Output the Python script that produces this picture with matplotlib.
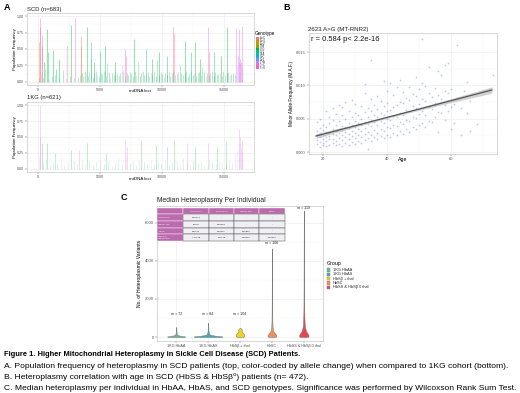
import numpy as np
import matplotlib
matplotlib.use('Agg')
import matplotlib.pyplot as plt
from matplotlib.patches import Rectangle

plt.rcParams['font.family'] = ['Liberation Sans', 'DejaVu Sans']

W, H = 520, 393
fig = plt.figure(figsize=(5.2, 3.93), dpi=100)


def rect(l, t, r, b):
    return [l / W, 1 - b / H, (r - l) / W, (b - t) / H]

# ---------------- DATA ----------------
geno_labels = ['A>C', 'A>G', 'A>T', 'C>A', 'C>G', 'C>T', 'G>A', 'G>C', 'G>T', 'T>A', 'T>C', 'T>G']
geno_colors = ['#F8766D', '#DE8C00', '#B79F00', '#7CAE00', '#00BA38', '#00C08B',
               '#00BFC4', '#00B4F0', '#619CFF', '#C77CFF', '#F564E3', '#FF64B0']

# Panel A (SCD) prominent heteroplasmies
scd_pos = [73, 150, 195, 300, 350, 480, 750, 830, 1190, 1438, 1720, 2310, 2706, 3010, 3480,
           3520, 3980, 4250, 4500, 5000, 5450, 6200, 7050, 7150, 7800, 8700, 9200, 9800, 10400, 10900,
           10950, 11850, 12400, 12700, 13100, 13750, 13800, 14200, 14800, 15300, 16000, 16150, 16250, 16300, 16400,
           16519]
scd_freq = [0.60, 0.84, 0.97, 0.72, 0.55, 0.30, 0.80, 0.45, 0.48, 0.20, 0.35, 0.55, 0.87, 0.97, 0.70,
            0.55, 0.83, 0.60, 0.30, 0.47, 0.55, 0.30, 0.50, 0.40, 0.65, 0.50, 0.35, 0.45, 0.40, 0.83,
            0.75, 0.62, 0.45, 0.60, 0.35, 0.83, 0.45, 0.45, 0.40, 0.83, 0.82, 0.40, 0.80, 0.35, 0.30,
            0.85]
scd_geno = [1, 10, 11, 0, 0, 4, 4, 5, 4, 5, 4, 10, 4, 10, 0,
            0, 4, 5, 4, 5, 4, 4, 10, 11, 4, 5, 4, 4, 5, 0,
            11, 4, 5, 4, 4, 10, 0, 5, 4, 4, 10, 9, 9, 11, 9,
            11]
# Panel A (SCD) low-frequency heteroplasmies
scd_low_pos = [60, 250, 400, 600, 900, 1100, 1400, 1700, 2000, 2300, 2600, 2900, 3200,
               3400, 3530, 3650, 3790, 3900, 4040, 4160, 4300, 4420, 4560, 4690, 4810, 4950, 5080, 5200,
               5340, 5470, 5590, 5730, 5860, 5990, 6120, 6250, 6380, 6510, 6640, 6770, 6900, 7030, 7160,
               7290, 7420, 7550, 7690, 7820, 7950, 8080, 8210, 8340, 8470, 8600, 8730, 8860, 8990, 9120,
               9250, 9380, 9510, 9640, 9770, 9900, 10030, 10160, 10290, 10420, 10550, 10680, 10810, 10940, 11070,
               11200, 11330, 11460, 11590, 11720, 11850, 11980, 12110, 12240, 12370, 12500, 12630, 12760, 12890,
               13020, 13150, 13280, 13410, 13540, 13670, 13800, 13930, 14060, 14190, 14320, 14450, 14580, 14710,
               14840, 14970, 15100, 15230, 15360, 15490, 15620, 15750, 15880, 16050, 16200, 16350, 16450]
scd_low_freq = [0.05, 0.12, 0.06, 0.20, 0.04, 0.08, 0.10, 0.05, 0.18, 0.06, 0.09, 0.05, 0.07,
                0.10, 0.14, 0.08, 0.16, 0.12, 0.09, 0.15, 0.35, 0.07, 0.13, 0.17, 0.10, 0.08, 0.14, 0.12,
                0.16, 0.09, 0.28, 0.15, 0.07, 0.13, 0.10, 0.16, 0.12, 0.08, 0.14, 0.25, 0.17, 0.09, 0.13,
                0.10, 0.15, 0.12, 0.08, 0.16, 0.11, 0.30, 0.09, 0.13, 0.17, 0.10, 0.12, 0.15, 0.08, 0.14,
                0.11, 0.16, 0.09, 0.33, 0.10, 0.15, 0.12, 0.07, 0.14, 0.11, 0.17, 0.09, 0.13, 0.16, 0.10,
                0.12, 0.15, 0.26, 0.14, 0.11, 0.13, 0.17, 0.09, 0.12, 0.16, 0.10, 0.14, 0.08, 0.13,
                0.15, 0.11, 0.22, 0.16, 0.09, 0.14, 0.10, 0.13, 0.17, 0.08, 0.15, 0.11, 0.12, 0.14,
                0.09, 0.16, 0.10, 0.13, 0.15, 0.11, 0.12, 0.14, 0.10, 0.25, 0.30, 0.28, 0.22]
scd_low_geno = [4, 10, 4, 5, 10, 4, 5, 4, 4, 10, 4, 5, 4,
                4, 5, 4, 4, 10, 4, 5, 4, 4, 5, 4, 10, 4, 4, 5,
                4, 4, 5, 4, 10, 4, 4, 5, 4, 4, 4, 10, 4, 5, 4,
                4, 5, 4, 4, 4, 10, 4, 5, 4, 4, 4, 5, 4, 4, 10,
                4, 5, 4, 4, 4, 5, 4, 10, 4, 4, 5, 4, 4, 4, 5,
                4, 10, 4, 4, 5, 4, 4, 4, 5, 4, 4, 10, 4, 5,
                4, 4, 5, 4, 10, 4, 4, 5, 4, 4, 4, 5, 4, 10,
                4, 4, 5, 4, 4, 10, 4, 4, 5, 9, 9, 10, 9]

# Panel A (1KG)
kg_pos = [150, 190, 300, 750, 1400, 2700, 3300, 4000, 5500, 7000, 7200, 8300, 9500, 10400, 11000,
          12000, 12700, 13700, 14500, 15200, 16200, 16300, 16400, 16500]
kg_freq = [0.50, 1.00, 0.40, 0.40, 0.25, 0.30, 0.30, 0.40, 0.25, 0.45, 0.35, 0.45, 0.38, 0.35, 0.45,
           0.40, 0.35, 0.40, 0.35, 0.42, 0.63, 0.50, 0.35, 0.45]
kg_geno = [11, 10, 4, 4, 5, 4, 10, 4, 5, 10, 11, 4, 4, 5, 4,
           10, 4, 10, 4, 4, 9, 10, 9, 11]
kg_low_pos = [80, 400, 650, 950, 1200, 1550, 1850, 2100, 2450, 2900, 3150, 3550, 3800, 4150, 4450,
              4700, 5050, 5300, 5700, 5950, 6250, 6500, 6800, 7100, 7400, 7650, 7950, 8200, 8550, 8850,
              9100, 9400, 9700, 9950, 10250, 10600, 10850, 11200, 11450, 11750, 12050, 12300, 12550, 12900,
              13150, 13450, 13800, 14050, 14350, 14650, 14900, 15150, 15450, 15700, 15950, 16100, 16250, 16450]
kg_low_freq = [0.20, 0.10, 0.15, 0.06, 0.12, 0.08, 0.18, 0.05, 0.10, 0.14, 0.07, 0.16, 0.09, 0.12, 0.06,
               0.10, 0.15, 0.08, 0.13, 0.05, 0.11, 0.17, 0.07, 0.20, 0.09, 0.12, 0.06, 0.14, 0.10, 0.08,
               0.16, 0.07, 0.12, 0.09, 0.15, 0.06, 0.11, 0.13, 0.08, 0.17, 0.10, 0.07, 0.14, 0.09,
               0.12, 0.06, 0.15, 0.10, 0.08, 0.13, 0.11, 0.07, 0.16, 0.09, 0.25, 0.30, 0.40, 0.28]
kg_low_geno = [10, 4, 4, 10, 5, 4, 11, 4, 10, 4, 5, 4, 10, 4, 4,
               5, 10, 4, 4, 11, 4, 5, 4, 10, 4, 4, 5, 10, 4, 4,
               11, 4, 5, 4, 10, 4, 4, 5, 10, 4, 4, 11, 4, 5,
               4, 10, 4, 4, 5, 10, 4, 4, 11, 4, 9, 10, 9, 11]

# Panel B scatter (age, M.A.F.)
b_age = [18, 18, 18, 18, 18,
         19, 19, 19, 19, 19, 19,
         20, 20, 20, 20, 20, 20,
         21, 21, 21, 21, 21, 21,
         22, 22, 22, 22, 22, 22,
         23, 23, 23, 23, 23, 23,
         24, 24, 24, 24, 24, 24,
         25, 25, 25, 25, 25, 25,
         26, 26, 26, 26, 26, 26, 26,
         27, 27, 27, 27, 27, 27,
         28, 28, 28, 28, 28, 28,
         29, 29, 29, 29, 29, 29,
         30, 30, 30, 30, 30, 30, 30,
         31, 31, 31, 31, 31,
         32, 32, 32, 32, 32, 32,
         33, 33, 33, 33, 33, 33, 33,
         34, 34, 34, 34, 34, 34,
         35, 35, 35, 35, 35, 35, 35,
         36, 36, 36, 36, 36,
         37, 37, 37, 37, 37, 37,
         38, 38, 38, 38, 38,
         39, 39, 39, 39, 39, 39,
         40, 40, 40, 40, 40, 40,
         41, 41, 41, 41, 41,
         42, 42, 42, 42, 42,
         43, 43, 43, 43, 43,
         44, 44, 44, 44, 44,
         45, 45, 45, 45, 45,
         46, 46, 46, 46,
         47, 47, 47, 47, 47,
         48, 48, 48, 48,
         49, 49, 49, 49, 49,
         50, 50, 50, 50,
         51, 51, 51, 51, 51,
         52, 52, 52, 52,
         53, 53, 53, 53,
         54, 54, 54,
         55, 55, 55,
         56, 56, 56, 56,
         57, 57, 57,
         58, 58, 58, 58,
         59, 59, 59,
         60, 60, 60,
         61, 61,
         62, 62,
         63, 63,
         64,
         65, 65,
         66, 66,
         68,
         73]
b_maf = [0.0012, 0.0018, 0.0025, 0.0031, 0.0045,
         0.0008, 0.0015, 0.0022, 0.0028, 0.0036, 0.0050,
         0.0010, 0.0014, 0.0020, 0.0026, 0.0033, 0.0041,
         0.0009, 0.0017, 0.0023, 0.0030, 0.0038, 0.0062,
         0.0011, 0.0019, 0.0024, 0.0029, 0.0044, 0.0052,
         0.0013, 0.0020, 0.0027, 0.0035, 0.0048, 0.0066,
         0.0010, 0.0016, 0.0025, 0.0032, 0.0040, 0.0057,
         0.0012, 0.0021, 0.0028, 0.0034, 0.0046, 0.0070,
         0.0009, 0.0018, 0.0026, 0.0031, 0.0039, 0.0055, 0.0068,
         0.0014, 0.0022, 0.0030, 0.0037, 0.0049, 0.0075,
         0.0011, 0.0020, 0.0027, 0.0036, 0.0043, 0.0061,
         0.0015, 0.0024, 0.0031, 0.0040, 0.0052, 0.0078,
         0.0012, 0.0021, 0.0029, 0.0038, 0.0047, 0.0058, 0.0072,
         0.0016, 0.0025, 0.0034, 0.0044, 0.0056,
         0.0013, 0.0023, 0.0032, 0.0041, 0.0050, 0.0069,
         0.0018, 0.0027, 0.0036, 0.0045, 0.0060, 0.0088, 0.0102,
         0.0004, 0.0021, 0.0030, 0.0042, 0.0053, 0.0066,
         0.0016, 0.0026, 0.0039, 0.0048, 0.0062, 0.0080, 0.0138,
         0.0022, 0.0033, 0.0045, 0.0055, 0.0071,
         0.0019, 0.0029, 0.0040, 0.0052, 0.0065, 0.0084,
         0.0024, 0.0035, 0.0046, 0.0058, 0.0077,
         0.0021, 0.0032, 0.0043, 0.0056, 0.0069, 0.0107,
         0.0026, 0.0038, 0.0050, 0.0061, 0.0074, 0.0092,
         0.0023, 0.0036, 0.0048, 0.0063, 0.0104,
         0.0028, 0.0041, 0.0054, 0.0067, 0.0086,
         0.0025, 0.0039, 0.0052, 0.0070, 0.0097,
         0.0031, 0.0045, 0.0059, 0.0075, 0.0108,
         0.0027, 0.0042, 0.0056, 0.0073, 0.0090,
         0.0034, 0.0048, 0.0063, 0.0081,
         0.0030, 0.0046, 0.0061, 0.0078, 0.0098,
         0.0037, 0.0053, 0.0069, 0.0087,
         0.0035, 0.0051, 0.0066, 0.0084, 0.0112,
         0.0040, 0.0057, 0.0072, 0.0094,
         0.0043, 0.0062, 0.0080, 0.0103, 0.0170,
         0.0038, 0.0055, 0.0076, 0.0099,
         0.0047, 0.0068, 0.0089, 0.0128,
         0.0045, 0.0064, 0.0083,
         0.0052, 0.0074, 0.0096,
         0.0030, 0.0060, 0.0085, 0.0122,
         0.0058, 0.0079, 0.0116,
         0.0048, 0.0070, 0.0091, 0.0131,
         0.0062, 0.0088, 0.0133,
         0.0035, 0.0067, 0.0095,
         0.0072, 0.0044,
         0.0081, 0.0160,
         0.0025, 0.0066,
         0.0091,
         0.0058, 0.0105,
         0.0032, 0.0076,
         0.0042,
         0.0116]
fit_age = [17.8, 30, 40, 50, 60, 72.8]
fit_maf = [0.0024, 0.00393, 0.00519, 0.00644, 0.0077, 0.0093]
fit_lo = [0.00205, 0.00373, 0.00506, 0.00624, 0.0074, 0.00882]
fit_hi = [0.00275, 0.00413, 0.00532, 0.00664, 0.0080, 0.00978]

# Panel C violins
grp_names = ['1KG HbAA', '1KG HbAS', 'HbSβ + thal', 'HbSC', 'HbSS & HbSβ 0 thal']
grp_colors = ['#66bb88', '#45aab5', '#f2d21b', '#f28e5c', '#e5474f']
grp_m = [72, 84, 104, 106, 119]
grp_m_y = [1100, 1100, 1100, 4850, 6680]
vio_y = [[0, 30, 60, 100, 160, 250, 400, 520],
         [0, 30, 70, 120, 200, 350, 550, 750],
         [0, 60, 130, 200, 260, 320, 380, 440, 480],
         [0, 60, 130, 200, 280, 380, 550, 900, 1500, 2500, 3500, 4650],
         [0, 80, 160, 250, 350, 500, 700, 1000, 1500, 2500, 4000, 5500, 6650]]
vio_w = [[0.27, 0.28, 0.16, 0.05, 0.02, 0.012, 0.008, 0.004],
         [0.43, 0.45, 0.22, 0.06, 0.025, 0.012, 0.008, 0.004],
         [0.10, 0.13, 0.13, 0.10, 0.06, 0.05, 0.06, 0.04, 0.01],
         [0.11, 0.14, 0.13, 0.09, 0.05, 0.03, 0.02, 0.012, 0.008, 0.006, 0.005, 0.003],
         [0.13, 0.15, 0.13, 0.09, 0.06, 0.04, 0.025, 0.018, 0.012, 0.008, 0.006, 0.004, 0.002]]

# Panel C p-value table
tbl_cols = ['1KG HbAA', '1KG HbAS', 'HbSβ+ thal', 'HbSC']
tbl_rows = ['1KG HbAS', 'HbSβ+ thal', 'HbSC', 'HbSS &\nHbSβ0 thal']
tbl_vals = [['0.00549', '-', '-', '-'],
            ['9.4e-5', '0.00082', '-', '-'],
            ['2.6e-11', '0.00011', '0.51890', '-'],
            ['< 2e-16', '2.2e-16', '0.09480', '0.30290']]

caption = [
    ('Figure 1. Higher Mitochondrial Heteroplasmy in Sickle Cell Disease (SCD) Patients.', 'bold', 5.4),
    ('A. Population frequency of heteroplasmy in SCD patients (top, color-coded by allele change) when compared to 1KG cohort (bottom).', 'normal', 6.1),
    ('B. Heteroplasmy correlation with age in SCD (HbSS & HbSβ\u2070) patients (n= 472).', 'normal', 6.1),
    ('C. Median heteroplasmy per individual in HbAA, HbAS, and SCD genotypes. Significance was performed by Wilcoxson Rank Sum Test.', 'normal', 6.1),
]

# ---------------- STYLE HELPERS ----------------
GRID = '#ebebeb'
BORDER = '#c8c8c8'
TICKC = '#4d4d4d'


def style(ax, fs):
    for s in ax.spines.values():
        s.set_color(BORDER)
        s.set_linewidth(0.5)
    ax.tick_params(labelsize=fs, length=1.2, width=0.3, color='#555555', labelcolor=TICKC, pad=1)
    ax.grid(True, which='major', color=GRID, lw=0.45)
    ax.grid(True, which='minor', color='#f4f4f4', lw=0.3)
    ax.set_axisbelow(True)
    ax.set_facecolor('white')

# ---------------- PANEL A ----------------
for (t, b, pos, frq, gen, lpos, lfrq, lgen, alpha) in [
        (13, 85, scd_pos, scd_freq, scd_geno, scd_low_pos, scd_low_freq, scd_low_geno, 0.38),
        (102, 172, kg_pos, kg_freq, kg_geno, kg_low_pos, kg_low_freq, kg_low_geno, 0.2)]:
    ax = fig.add_axes(rect(27, t, 254, b))
    style(ax, 2.6)
    ax.vlines(lpos, 0, lfrq, colors=[geno_colors[g] for g in lgen[:len(lpos)]], lw=0.5, alpha=alpha)
    ax.vlines(pos, 0, frq, colors=[geno_colors[g] for g in gen], lw=0.6, alpha=alpha + 0.1)
    ax.set_xlim(-880, 17450)
    ax.set_ylim(-0.05, 1.05)
    ax.set_xticks([0, 5000, 10000, 15000])
    ax.set_xticks([2500, 7500, 12500], minor=True)
    ax.set_yticks([0, 0.25, 0.5, 0.75, 1.0])
    ax.set_yticks([0.125, 0.375, 0.625, 0.875], minor=True)
    ax.set_yticklabels(['0.00', '0.25', '0.50', '0.75', '1.00'])
    ax.tick_params(which='minor', length=0)

# ---------------- PANEL B ----------------
axb = fig.add_axes(rect(309, 33, 497, 154))
style(axb, 2.8)
axb.scatter(b_age, b_maf, s=1.6, color='#6f86ee', alpha=0.45, linewidths=0)
axb.fill_between(fit_age, fit_lo, fit_hi, color='#9a9a9a', alpha=0.45, lw=0)
axb.plot(fit_age, fit_maf, color='#555555', lw=0.9)
axb.set_xlim(15.6, 74.4)
axb.set_ylim(-0.0003, 0.01785)
axb.set_xticks([20, 40, 60])
axb.set_xticks([30, 50, 70], minor=True)
axb.set_yticks([0, 0.005, 0.010, 0.015])
axb.set_yticks([0.0025, 0.0075, 0.0125, 0.0175], minor=True)
axb.set_yticklabels(['0.000', '0.005', '0.010', '0.015'])
axb.tick_params(which='minor', length=0)

# ---------------- PANEL C ----------------
axc = fig.add_axes(rect(157, 206, 323, 341))
style(axc, 3.0)
for i in range(5):
    x = i + 1
    ys = np.array(vio_y[i])
    ws = np.array(vio_w[i])
    axc.fill_betweenx(ys, x - ws, x + ws, facecolor=grp_colors[i], edgecolor='#777777', lw=0.35)
    axc.text(x, grp_m_y[i], f'm = {grp_m[i]}', ha='center', va='bottom', fontsize=2.6, color='#222222')
axc.set_xlim(0.4, 5.6)
axc.set_ylim(-210, 6890)
axc.set_xticks([1, 2, 3, 4, 5])
axc.set_xticklabels(grp_names, fontsize=2.7)
axc.set_yticks([0, 2000, 4000, 6000])
axc.set_yticks([1000, 3000, 5000], minor=True)
axc.tick_params(which='minor', length=0)

# ---------------- OVERLAY (labels, legends, table, caption) ----------------
ov = fig.add_axes([0, 0, 1, 1])
ov.set_xlim(0, W)
ov.set_ylim(H, 0)
ov.axis('off')

ov.text(4, 7, 'A', fontsize=6.5, fontweight='bold', va='center')
ov.text(283, 7, 'B', fontsize=6.5, fontweight='bold', va='center')
ov.text(121, 197, 'C', fontsize=6.5, fontweight='bold', va='center')

ov.text(27, 10, 'SCD (n=683)', fontsize=4.2, va='center', color='#222222')
ov.text(27, 97, '1KG (n=621)', fontsize=4.2, va='center', color='#222222')
for yc, yl in [(49, 91), (137, 179)]:
    ov.text(15, yc, 'Population Frequency', rotation=90, fontsize=3.2, ha='center', va='center')
    ov.text(140, yl, 'mtDNA loci', fontsize=3.2, ha='center', va='center')

# Genotype legend
ov.text(255, 33, 'Genotype', fontsize=3.3, va='center')
kh = 32 / len(geno_labels)
for k, (lab, col) in enumerate(zip(geno_labels, geno_colors)):
    y0 = 37 + k * kh
    ov.add_patch(Rectangle((256, y0), 2.6, kh, facecolor=col, edgecolor='none'))
    ov.text(260, y0 + kh / 2, lab, fontsize=1.9, va='center', color='#333333')

# Panel B texts
ov.text(308, 30, '2623 A>G (MT-RNR2)', fontsize=4.4, va='center', color='#222222')
ov.text(311, 39.5, 'r = 0.584 p< 2.2e-16', fontsize=5.4, va='center', color='#111111')
ov.text(291, 93, 'Minor Allele Frequency (M.A.F.)', rotation=90, fontsize=3.3, ha='center', va='center')
ov.text(403, 159, 'Age', fontsize=3.8, ha='center', va='center')

# Panel C texts
ov.text(157, 201, 'Median Heteroplasmy Per Individual', fontsize=4.9, va='center', color='#222222')
ov.text(140, 273, 'No. of Heteroplasmic Variants', rotation=90, fontsize=3.6, ha='center', va='center')

# table
cx = [157, 183, 209, 234, 259, 285]
ry = [208, 214, 221, 228, 234, 241]
MAG = '#bb6aae'
BODY = '#efeff4'
for c in range(5):
    ov.add_patch(Rectangle((cx[c], ry[0]), cx[c + 1] - cx[c], ry[1] - ry[0], facecolor=MAG,
                           edgecolor='white', lw=0.3, zorder=3))
    if c > 0:
        ov.text((cx[c] + cx[c + 1]) / 2, (ry[0] + ry[1]) / 2, tbl_cols[c - 1], fontsize=1.7,
                color='white', ha='center', va='center', zorder=4)
for r in range(4):
    ov.add_patch(Rectangle((cx[0], ry[r + 1]), cx[1] - cx[0], ry[r + 2] - ry[r + 1], facecolor=MAG,
                           edgecolor='white', lw=0.3, zorder=3))
    ov.text(cx[0] + 1.5, (ry[r + 1] + ry[r + 2]) / 2, tbl_rows[r], fontsize=1.7, color='white',
            ha='left', va='center', zorder=4, linespacing=0.9)
    for c in range(4):
        ov.add_patch(Rectangle((cx[c + 1], ry[r + 1]), cx[c + 2] - cx[c + 1], ry[r + 2] - ry[r + 1],
                               facecolor=BODY, edgecolor='#555555', lw=0.35, zorder=3))
        ov.text((cx[c + 1] + cx[c + 2]) / 2, (ry[r + 1] + ry[r + 2]) / 2, tbl_vals[r][c], fontsize=1.7,
                color='#111111', ha='center', va='center', zorder=4)

# Group legend
ov.text(327, 264, 'Group', fontsize=3.8, va='center')
for k, (lab, col) in enumerate(zip(grp_names, grp_colors)):
    yk = 270 + k * 4.3
    ov.add_patch(Rectangle((327, yk - 1.7), 3.4, 3.4, facecolor=col, edgecolor='#888888', lw=0.3))
    ov.text(333, yk, lab, fontsize=2.8, va='center', color='#222222')

# Caption
for k, (txt, wt, fs) in enumerate(caption):
    ov.text(4, 355 + k * 11, txt, fontsize=fs, fontweight=wt, va='center', color='black')

fig.savefig('out.png', dpi=100)
